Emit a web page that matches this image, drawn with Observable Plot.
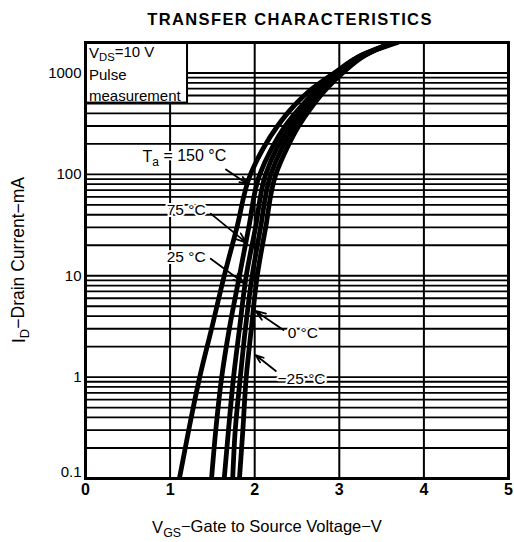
<!DOCTYPE html>
<html>
<head>
<meta charset="utf-8">
<script src="https://cdn.jsdelivr.net/npm/d3@7"></script>
<script src="https://cdn.jsdelivr.net/npm/@observablehq/plot@0.6"></script>
<style>
  html, body { margin: 0; padding: 0; background: #fff; }
  svg { display: block; }
</style>
</head>
<body>
<div id="chart"></div>
<script>
// ---- data ----
const temps = ["150 °C", "75 °C", "25 °C", "0 °C", "−25 °C"];
// drain current levels (mA)
const currents = [0.1, 0.3, 1, 3, 10, 30, 100, 180, 300, 470, 700, 1000, 1500, 2000];
// gate-source voltage (V) per temperature at each current level
const vgs150 = [1.11, 1.22, 1.35, 1.49, 1.64, 1.79, 1.95, 2.10, 2.27, 2.46, 2.68, 2.94, 3.27, 3.69];
const vgs75  = [1.49, 1.54, 1.61, 1.70, 1.82, 1.93, 2.06, 2.20, 2.36, 2.55, 2.75, 2.97, 3.26, 3.65];
const vgs25  = [1.64, 1.69, 1.75, 1.82, 1.90, 2.01, 2.13, 2.26, 2.42, 2.60, 2.79, 2.99, 3.27, 3.64];
const vgs0   = [1.74, 1.77, 1.83, 1.89, 1.97, 2.07, 2.19, 2.32, 2.47, 2.64, 2.81, 3.01, 3.30, 3.63];
const vgsM25 = [1.82, 1.86, 1.90, 1.96, 2.03, 2.13, 2.25, 2.38, 2.52, 2.68, 2.85, 3.04, 3.31, 3.62];
const series = [vgs150, vgs75, vgs25, vgs0, vgsM25];

const xTicks = [0, 1, 2, 3, 4, 5];
const yTicks = [1, 10, 100, 1000];
const yTickLabels = ["1", "10", "100", "1000"];
const yTickLow = [0.1];
const gridMult = [1, 2, 3, 4, 5, 6, 7, 8, 9];
const gridDecades = [0.1, 1, 10, 100];
const gridY = gridDecades.flatMap(d => gridMult.map(m => +(m * d).toPrecision(3))).concat([1000]);

// annotation label anchors and arrows (V, mA)
const labelT = ["75 °C", "25 °C", "0 °C", "−25 °C"];
const labelV = [1.42, 1.42, 2.39, 2.27];
const labelI = [44, 15.4, 2.73, 0.955];
const labelAnchor = ["end", "end", "start", "start"];
const arrowV1 = [1.66, 1.48, 1.48, 2.34, 2.25];
const arrowI1 = [112, 41, 14.7, 2.92, 1.15];
const arrowV2 = [1.92, 1.90, 1.87, 2.01, 2.01];
const arrowI2 = [80, 21.2, 8.5, 4.5, 1.65];

// ---- tables ----
const curveData = series.flatMap((arr, s) => currents.map((c, k) => ({t: temps[s], i: c, v: arr[k]})));
const labels = labelT.map((t, k) => ({t, v: labelV[k], i: labelI[k], a: labelAnchor[k]}));
const arrows = arrowV1.map((v, k) => ({v1: v, i1: arrowI1[k], v2: arrowV2[k], i2: arrowI2[k]}));
const box = [{x1: 0, x2: 1.206, y1: 505, y2: 2000}];

const font = "'Liberation Sans', Arial, Helvetica, sans-serif";

const chart = Plot.plot({
  width: 514,
  height: 542,
  marginLeft: 85,
  marginRight: 6,
  marginTop: 42,
  marginBottom: 64,
  x: {domain: [0, 5]},
  y: {type: "log", domain: [0.1, 2000]},
  style: {fontFamily: font, background: "white", color: "black"},
  marks: [
    Plot.ruleY(gridY, {stroke: "black", strokeWidth: 1.8}),
    Plot.ruleX([1, 2, 3, 4], {stroke: "black", strokeWidth: 2}),
    Plot.rect(box, {x1: "x1", x2: "x2", y1: "y1", y2: "y2", fill: "white", stroke: "black", strokeWidth: 2}),
    Plot.line(curveData, {x: "v", y: "i", z: "t", curve: "monotone-y", stroke: "black", strokeWidth: 4.8, clip: true}),
    Plot.arrow(arrows, {x1: "v1", y1: "i1", x2: "v2", y2: "i2", stroke: "black", strokeWidth: 1.8, headLength: 9, headAngle: 40}),
    Plot.text(labels.filter(d => d.a === "end"), {x: "v", y: "i", text: "t", textAnchor: "end", fontSize: 15.5, fill: "black", stroke: "white", strokeWidth: 4}),
    Plot.text(labels.filter(d => d.a === "start"), {x: "v", y: "i", text: "t", textAnchor: "start", fontSize: 15.5, fill: "black", stroke: "white", strokeWidth: 4}),
    Plot.frame({stroke: "black", strokeWidth: 3}),
    Plot.axisX({ticks: xTicks, tickFormat: d => String(d), tickSize: 0, tickPadding: 5, fontSize: 16, fontWeight: "bold", label: null}),
    Plot.axisY({ticks: yTicks, tickFormat: d => yTickLabels[yTicks.indexOf(d)], tickSize: 0, tickPadding: 4, fontSize: 15, label: null}),
    Plot.axisY({ticks: yTickLow, tickFormat: () => "0.1", tickSize: 0, tickPadding: 4, fontSize: 15, dy: -6, label: null})
  ]
});

document.getElementById("chart").appendChild(chart);

// ---- extra text with subscripts ----
const svg = d3.select(chart);
const xs = chart.scale("x"), ys = chart.scale("y");

function addText(x, y, parts, opts = {}) {
  const t = svg.append("text")
    .attr("x", x).attr("y", y)
    .attr("font-family", font)
    .attr("font-size", opts.size || 15)
    .attr("font-weight", opts.weight || "normal")
    .attr("text-anchor", opts.anchor || "start")
    .attr("fill", "black");
  if (opts.rotate) t.attr("transform", `rotate(${opts.rotate},${x},${y})`);
  if (opts.spacing) t.attr("letter-spacing", opts.spacing);
  if (opts.halo) t.attr("stroke", "white").attr("stroke-width", 4).attr("paint-order", "stroke");
  parts.forEach(p => {
    const s = t.append("tspan").text(p.t);
    if (p.sub) s.attr("font-size", "0.75em").attr("dy", "0.3em");
    if (p.after) s.attr("dy", "-0.3em");
  });
  return t;
}

// title
addText(290, 25, [{t: "TRANSFER CHARACTERISTICS"}], {size: 16.5, weight: "bold", anchor: "middle", spacing: 1.4});

// box text
const bx = xs.apply(0) + 4, by = ys.apply(2000);
addText(bx, by + 16, [{t: "V"}, {t: "DS", sub: true}, {t: "=10 V", after: true}], {size: 15});
addText(bx, by + 38, [{t: "Pulse"}], {size: 15});
addText(bx, by + 59, [{t: "measurement"}], {size: 15});

// Ta = 150 °C label
addText(xs.apply(1.67), ys.apply(147) + 5, [{t: "T"}, {t: "a", sub: true}, {t: " = 150 °C", after: true}], {size: 16, anchor: "end", halo: true});

// axis labels
addText(267, 533, [{t: "V"}, {t: "GS", sub: true}, {t: "−Gate to Source Voltage−V", after: true}], {size: 16.5, anchor: "middle"});
addText(25, 260, [{t: "I"}, {t: "D", sub: true}, {t: "−Drain Current−mA", after: true}], {size: 17.5, anchor: "middle", rotate: -90});
</script>
</body>
</html>
